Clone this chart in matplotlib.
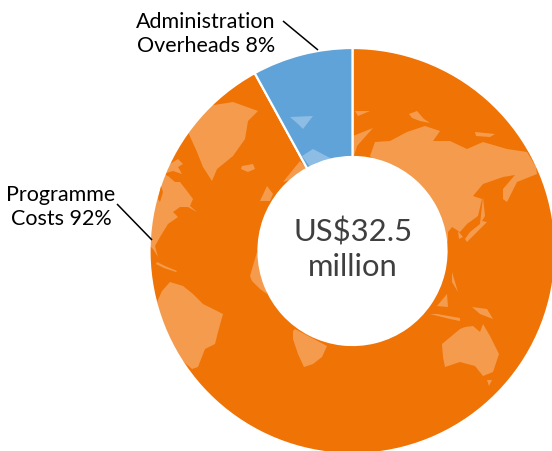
#!/usr/bin/env python3
"""Programme vs admin cost donut with a faint world map on the ring."""

import matplotlib
matplotlib.use("Agg")
import matplotlib.pyplot as plt
from matplotlib.patches import Polygon

plt.rcParams["font.family"] = ["Lato", "DejaVu Sans"]

shares = [92, 8]
share_colors = ["#F07305", "#5FA3D9"]
total_label = "US$32.5\nmillion"
slice_labels = ["Programme\nCosts 92%", "Administration\nOverheads 8%"]

# land outlines, in pixels of the 552x452 picture
greenland = [(208, 107), (233, 103), (258, 112), (248, 122), (245, 140), (233, 157),
             (217, 170), (212, 182), (203, 168), (197, 153), (188, 133), (197, 120)]
iceland = [(242, 167), (253, 165), (255, 170), (248, 173), (241, 170)]
north_america = [(163, 175), (168, 177), (175, 183), (180, 183), (187, 192), (193, 200),
                 (190, 207), (197, 213), (188, 208), (180, 208), (173, 213), (178, 218),
                 (168, 225), (160, 238), (155, 247), (158, 258), (153, 250), (150, 247),
                 (148, 233), (152, 200), (158, 180)]
arctic_canada = [(166, 174), (170, 165), (178, 160), (183, 165), (178, 168), (182, 175), (173, 172)]
caribbean = [(157, 263), (165, 267), (177, 272), (176, 273), (164, 269), (156, 265)]
britain = [(260, 202), (267, 187), (273, 195), (270, 202)]
europe = [(283, 183), (300, 162), (307, 170), (293, 180)]
africa_north = [(250, 277), (257, 253), (263, 263), (267, 295), (260, 290), (252, 282)]
africa_south = [(293, 332), (295, 330), (327, 347), (322, 358), (313, 365), (304, 368),
                (298, 355), (293, 340)]
south_america = [(170, 283), (183, 287), (193, 295), (203, 305), (223, 315), (218, 333),
                 (215, 345), (205, 350), (198, 368), (192, 370), (177, 357), (165, 337),
                 (157, 303), (162, 292)]
australia = [(442, 345), (460, 330), (465, 328), (473, 327), (480, 333), (483, 325),
             (490, 337), (499, 355), (493, 373), (483, 377), (475, 367), (460, 363),
             (445, 368), (443, 358)]
tasmania = [(487, 381), (492, 381), (489, 387)]
java = [(430, 315), (450, 320), (460, 322), (460, 319), (437, 315)]
borneo = [(437, 307), (447, 295), (448, 308)]
new_guinea = [(472, 308), (487, 310), (493, 320), (480, 315)]
sulawesi = [(452, 273), (458, 293), (452, 283)]
asia = [(370, 157), (375, 143), (390, 142), (407, 133), (425, 127), (440, 132), (433, 142),
        (450, 142), (467, 150), (483, 143), (507, 150), (527, 153), (536, 168), (537, 175),
        (517, 183), (507, 203), (503, 200), (503, 190), (515, 176), (503, 178), (483, 185),
        (473, 197), (482, 200), (478, 217), (467, 225), (460, 233), (452, 228), (448, 233),
        (448, 243)]
japan = [(483, 198), (485, 217), (482, 222), (487, 223), (477, 233), (467, 243), (465, 240),
         (470, 233), (480, 225)]
korea = [(458, 232), (463, 238), (459, 240)]
novaya_zemlya = [(409, 115), (417, 112), (424, 120), (430, 124), (420, 122), (412, 119)]
siberian_isles = [(475, 133), (495, 135), (490, 138), (476, 137)]
scandinavia = [(353, 137), (373, 129), (357, 147), (354, 157)]
franz_josef = [(355, 112), (370, 112), (358, 117)]
svalbard = [(290, 118), (313, 117), (303, 130), (298, 125)]
north_cap = [(302, 157), (313, 150), (332, 160), (310, 168)]
hudson_bay = [(158, 200), (161, 187), (163, 193), (160, 203)]

LAND = [greenland, iceland, north_america, arctic_canada, caribbean, britain, europe,
        africa_north, africa_south, south_america, australia, tasmania, java, borneo,
        new_guinea, sulawesi, asia, japan, korea, novaya_zemlya, siberian_isles,
        scandinavia, franz_josef, svalbard, north_cap]

fig = plt.figure(figsize=(5.52, 4.52), dpi=100)
ax = fig.add_axes([0, 0, 1, 1])

wedges, _ = ax.pie(shares, colors=share_colors, center=(352.5, 252), radius=203,
                   startangle=-90, counterclock=True,
                   wedgeprops=dict(width=109, edgecolor="white", linewidth=1.6))
ax.set_xlim(0, 552)
ax.set_ylim(452, 0)
ax.set_aspect("auto")

# land sits on both slices, lightened and cut to the ring
for w in wedges:
    for outline in LAND:
        p = Polygon(outline, closed=True, facecolor="white", edgecolor="none", alpha=0.29, zorder=2)
        ax.add_patch(p)
        p.set_clip_path(w)
bay = Polygon(hudson_bay, closed=True, facecolor=share_colors[0], edgecolor="none", zorder=3)
ax.add_patch(bay)
bay.set_clip_path(wedges[0])

ax.text(353, 249, total_label, ha="center", va="center", fontsize=22.3, color="#3f3f3f",
        linespacing=1.3)
ax.text(61, 207, slice_labels[0], ha="center", va="center", fontsize=15.5, color="black",
        linespacing=1.22)
ax.text(206, 34, slice_labels[1], ha="center", va="center", fontsize=15.5, color="black",
        linespacing=1.22)
ax.plot([117, 152], [205, 241], color="black", lw=1.1, solid_capstyle="butt")
ax.plot([283, 318], [22, 51], color="black", lw=1.1, solid_capstyle="butt")

fig.savefig("out.png", dpi=100)
